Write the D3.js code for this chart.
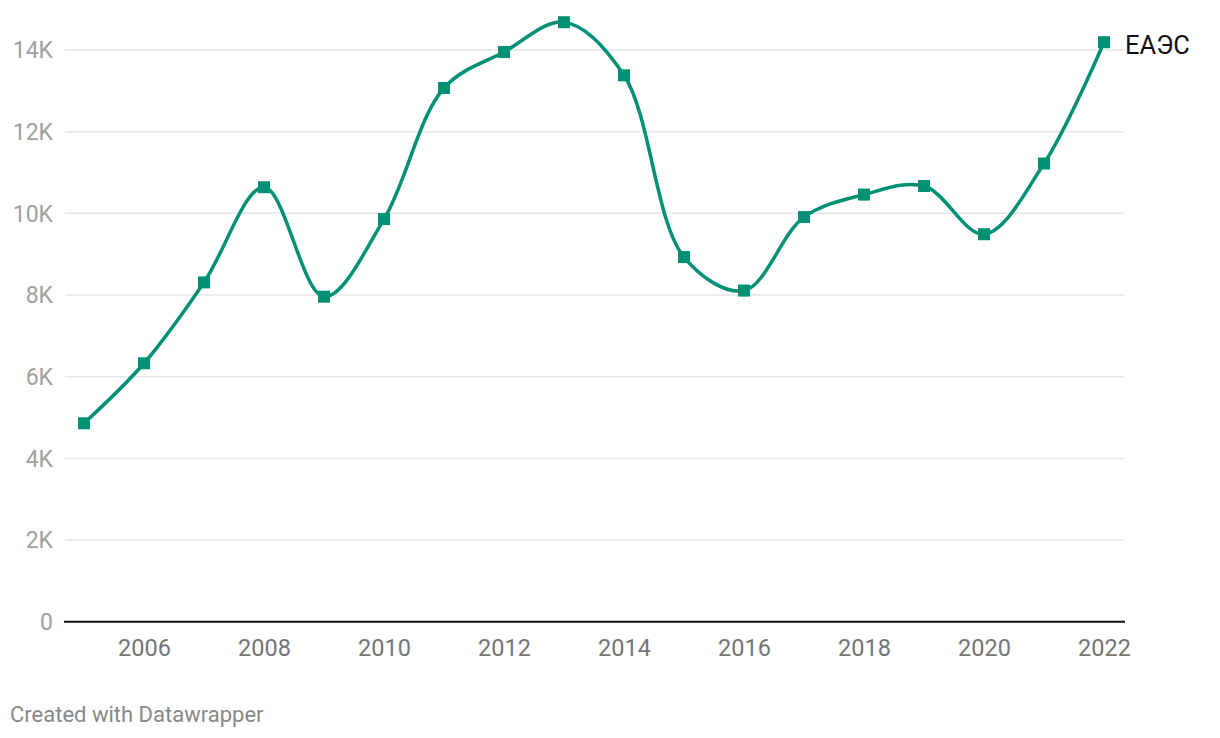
<!DOCTYPE html>
<html><head><meta charset="utf-8">
<script src="https://cdn.jsdelivr.net/npm/d3@7"></script>
<style>
html,body{margin:0;padding:0;background:#fff;}
svg{display:block;font-family:Roboto, "Noto Sans", sans-serif;}
</style></head>
<body><svg id="c" width="1220" height="738"></svg>
<script>
const years = [2005,2006,2007,2008,2009,2010,2011,2012,2013,2014,2015,2016,2017,2018,2019,2020,2021,2022];
const values = [4860,6330,8310,10640,7960,9860,13070,13950,14680,13380,8930,8110,9910,10460,10670,9490,11220,14190];
const seriesName = "ЕАЭС";
const yTicks = [0,2000,4000,6000,8000,10000,12000,14000];
const yTickLabels = ["0","2K","4K","6K","8K","10K","12K","14K"];
const xTicks = [2006,2008,2010,2012,2014,2016,2018,2020,2022];
const sourceText = "Created with Datawrapper";

(function(){
const svg = d3.select("#c");
const mLeft = 65, mRight = 1124, mTop = 50, mBottom = 621.8;
const x = d3.scaleLinear().domain([2005,2022]).range([84,1104]);
const y = d3.scaleLinear().domain([0,14000]).range([mBottom, mTop]);
const green = "#009174";

svg.append("g").selectAll("line").data(yTicks.filter(d=>d>0)).join("line")
  .attr("x1", mLeft).attr("x2", mRight)
  .attr("y1", d=>y(d)).attr("y2", d=>y(d))
  .attr("stroke", "#e6e6e6").attr("stroke-width", 1.5);

svg.append("g").selectAll("text").data(yTicks).join("text")
  .attr("x", 53).attr("y", d=>y(d)).attr("dy", "0.36em")
  .attr("text-anchor", "end").attr("fill", "#a0a0a0")
  .attr("font-size", 23).text((d,i)=>yTickLabels[i]);

svg.append("line").attr("x1", 64).attr("x2", 1125)
  .attr("y1", y(0)).attr("y2", y(0)).attr("stroke", "#111").attr("stroke-width", 2);

const xAxis = d3.axisBottom(x).tickValues(xTicks).tickFormat(d3.format("d")).tickSize(0).tickPadding(0);
const gx = svg.append("g").attr("transform", `translate(0,${y(0)})`).call(xAxis);
gx.select(".domain").remove();
gx.selectAll("text").attr("font-size", 23.5).attr("fill", "#757575")
  .attr("font-family", "Roboto, 'Noto Sans', sans-serif")
  .attr("y", 26).attr("dy", "0.36em");

const data = years.map((d,i)=>({year:d, value:values[i]}));
const line = d3.line().x(d=>x(d.year)).y(d=>y(d.value)).curve(d3.curveCatmullRom.alpha(0.5));
svg.append("path").datum(data).attr("d", line)
  .attr("fill", "none").attr("stroke", green).attr("stroke-width", 3.5)
  .attr("stroke-linejoin", "round").attr("stroke-linecap", "round");

const s = 12;
svg.append("g").selectAll("rect").data(data).join("rect")
  .attr("x", d=>x(d.year)-s/2).attr("y", d=>y(d.value)-s/2)
  .attr("width", s).attr("height", s).attr("fill", green);

const last = data[data.length-1];
svg.append("text").attr("x", x(last.year)+21).attr("y", y(last.value)+3).attr("dy", "0.36em")
  .attr("font-size", 25.5).attr("fill", "#111").text(seriesName);

svg.append("text").attr("x", 10).attr("y", 722).attr("font-size", 22)
  .attr("fill", "#888").text(sourceText);
})();
</script>
</body></html>
